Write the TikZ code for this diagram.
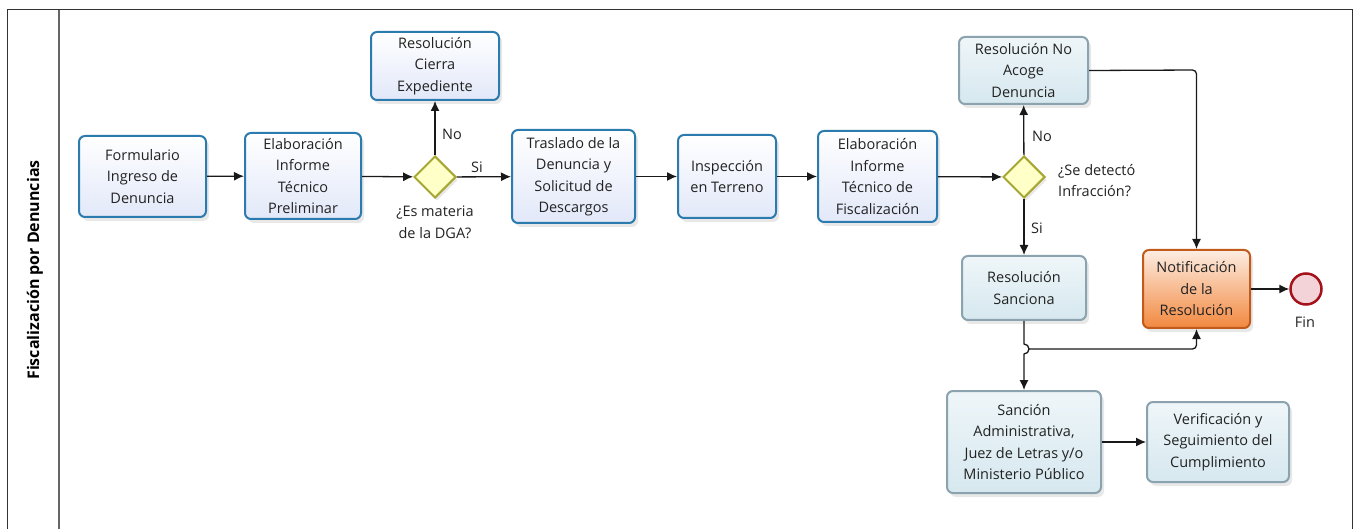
\documentclass[tikz,border=0pt]{standalone}
\usepackage{fontspec}
\setmainfont{Open Sans}
\usetikzlibrary{arrows.meta,shadows,shapes.geometric}
\definecolor{bluebd}{HTML}{2C7BAE}
\definecolor{bluefl}{HTML}{E2E8F9}
\definecolor{greybd}{HTML}{8AA3AE}
\definecolor{greyfl}{HTML}{D6E8EF}
\definecolor{diabd}{HTML}{A8A632}
\definecolor{diafl}{HTML}{FFFFC8}
\definecolor{orbd}{HTML}{C25A1C}
\definecolor{orfl}{HTML}{F2883F}
\definecolor{finbd}{HTML}{A5121C}
\definecolor{finfl}{HTML}{F3D3D8}
\definecolor{txt}{HTML}{222222}
\begin{document}
\begin{tikzpicture}[x=1pt,y=-1pt,
  every node/.style={text=txt, font=\fontsize{14.5}{21.5}\selectfont},
  taskbase/.style={rectangle, rounded corners=6pt, align=center, inner sep=2pt,
     drop shadow={opacity=0.18, shadow xshift=3pt, shadow yshift=-4pt}},
  bluetask/.style={taskbase, draw=bluebd, line width=2pt, top color=white, bottom color=bluefl},
  greytask/.style={taskbase, draw=greybd, line width=2pt, top color=white!60!greyfl, bottom color=greyfl},
  ortask/.style={taskbase, draw=orbd, line width=2pt, top color=orfl!15, bottom color=orfl},
  gate/.style={diamond, draw=diabd, line width=2pt, fill=diafl, minimum width=42pt, minimum height=42pt, inner sep=0pt,
     drop shadow={opacity=0.18, shadow xshift=2pt, shadow yshift=-3pt}},
  endev/.style={circle, draw=finbd, line width=2.5pt, fill=finfl, minimum size=31pt, inner sep=0pt},
  flow/.style={draw=black!90, line width=1.3pt, -{Latex[length=10pt,width=9pt]}},
  lbl/.style={inner sep=0pt}
]
\useasboundingbox (0,0) rectangle (1360,529);
% pool frame
\draw[line width=1pt, black!80] (7,529) -- (7,10) -- (1352,10) -- (1352,529);
\draw[line width=1.3pt, black!60] (59,10) -- (59,529);
\node[rotate=90, font=\bfseries\fontsize{16}{18}\selectfont, text=black] (pool) at (35,270) {Fiscalización por Denuncias};

% nodes
\node[bluetask, minimum width=127pt, minimum height=81pt] (form) at (142.5,176.5) {Formulario\\Ingreso de\\Denuncia};
\node[bluetask, minimum width=116pt, minimum height=86pt] (prel) at (303,176) {Elaboración\\Informe\\Técnico\\Preliminar};
\node[gate] (g1) at (435,177) {};
\node[bluetask, minimum width=128pt, minimum height=68pt] (cierra) at (435,66) {Resolución\\Cierra\\Expediente};
\node[bluetask, minimum width=123pt, minimum height=93pt] (tras) at (573.5,176.5) {Traslado de la\\Denuncia y\\Solicitud de\\Descargos};
\node[bluetask, minimum width=98pt, minimum height=83pt] (insp) at (727,176.5) {Inspección\\en Terreno};
\node[bluetask, minimum width=119pt, minimum height=91pt] (fisc) at (877.5,176.5) {Elaboración\\Informe\\Técnico de\\Fiscalización};
\node[gate] (g2) at (1024,177) {};
\node[greytask, minimum width=129pt, minimum height=67pt] (noacoge) at (1023.5,70.5) {Resolución No\\Acoge\\Denuncia};
\node[greytask, minimum width=124pt, minimum height=64pt] (sanc) at (1024,288) {Resolución\\Sanciona};
\node[ortask, minimum width=107pt, minimum height=78pt] (notif) at (1196.5,289) {Notificación\\de la\\Resolución};
\node[endev] (fin) at (1306,289) {};
\node[lbl] (finl) at (1305,322) {Fin};
\node[greytask, minimum width=154pt, minimum height=102pt] (sancion) at (1024,442) {Sanción\\Administrativa,\\Juez de Letras y/o\\Ministerio Público};
\node[greytask, minimum width=142pt, minimum height=80pt] (verif) at (1218,442) {Verificación y\\Seguimiento del\\Cumplimiento};

% gateway labels
\node[lbl, align=center] (g1l) at (435,222.5) {¿Es materia\\de la DGA?};
\node[lbl, align=left, anchor=west] (g2l) at (1058,180.5) {¿Se detectó\\Infracción?};
\node[lbl] (no1) at (452,134) {No};
\node[lbl] (si1) at (477,167) {Si};
\node[lbl] (no2) at (1042,136) {No};
\node[lbl] (si2) at (1037,228) {Si};

% connectors
\draw[flow] (form) -- (prel);
\draw[flow] (prel) -- (g1);
\draw[flow] (g1) -- (cierra);
\draw[flow] (g1) -- (tras);
\draw[flow] (tras) -- (insp);
\draw[flow] (insp) -- (fisc);
\draw[flow] (fisc) -- (g2);
\draw[flow] (g2) -- (noacoge);
\draw[flow] (g2) -- (sanc);
\draw[flow, rounded corners=4pt] (noacoge.east) -- (1196.5,70) -- (notif.north);
\coordinate (hop) at (1028,349);
\draw[flow] (sanc.south) -- (1024,344) arc[start angle=90, end angle=-90, radius=5pt] -- (sancion.north);
\draw[flow, rounded corners=4pt] (hop) -- (1196.5,349) -- (notif.south);
\draw[flow] (sancion) -- (verif);
\draw[flow] (notif) -- (fin);
\end{tikzpicture}
\end{document}
